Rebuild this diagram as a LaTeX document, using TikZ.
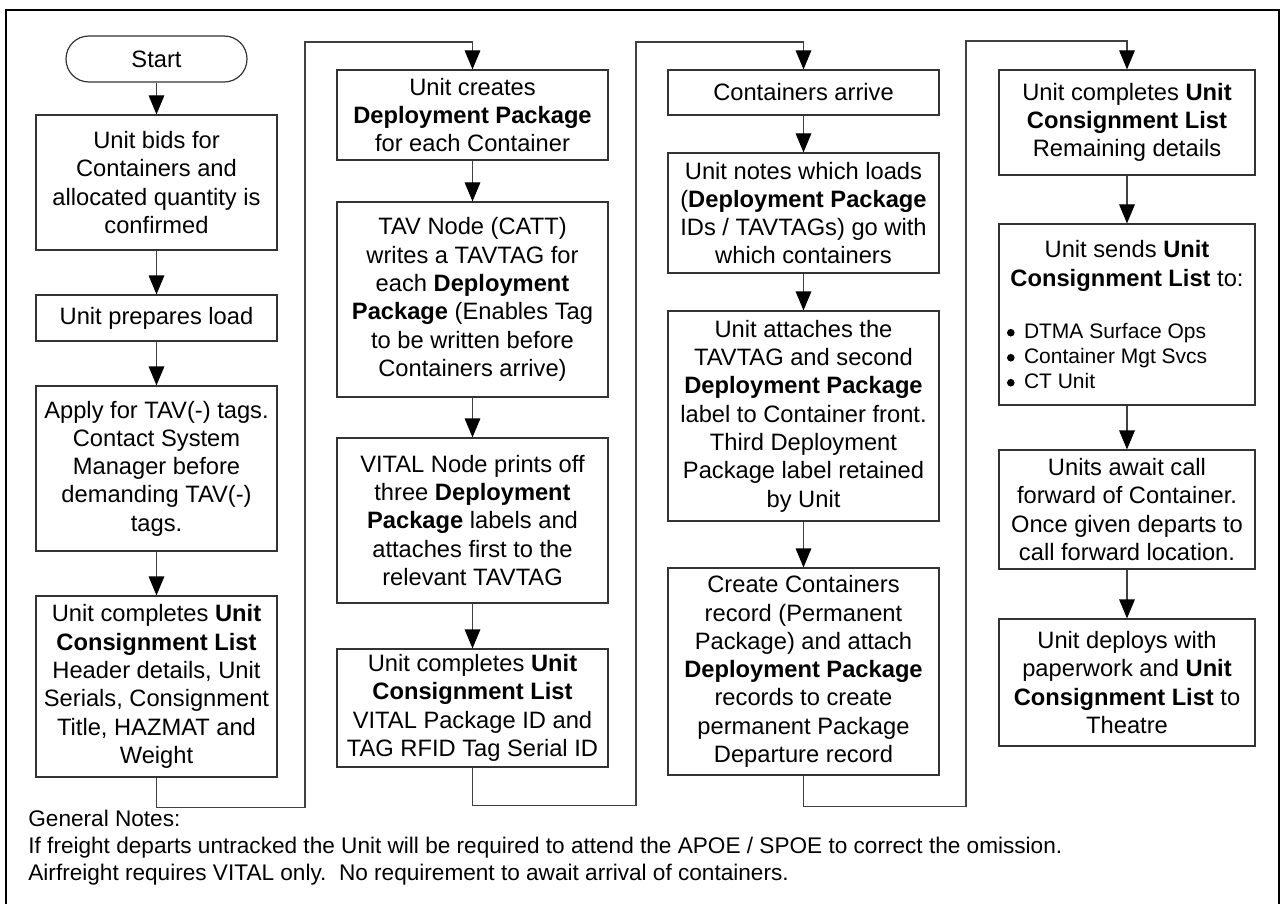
\documentclass[tikz,border=0pt]{standalone}
\usepackage{fontspec}
\setmainfont{Liberation Sans}
\usetikzlibrary{arrows.meta}
\newcommand{\bulletmark}{\makebox[8.5pt][l]{\tikz[baseline=0pt]\fill[black] (1.9pt,2.7pt) circle (1.9pt);}}
\begin{document}
\begin{tikzpicture}[x=0.5pt,y=-0.5pt,
  box/.style={draw=black!80, line width=0.6pt, inner sep=0pt, align=center,
    font=\fontsize{11.85pt}{14.15pt}\selectfont},
  sz/.style 2 args={minimum width=#1*0.5pt, minimum height=#2*0.5pt},
  term/.style={box, rounded corners=11.4pt},
  arr/.style={draw=black!75, line width=0.6pt,
    -{Triangle[length=9.5pt,width=7.8pt,color=black]}},
  note/.style={anchor=base west, inner sep=0pt,
    font=\fontsize{11.3pt}{13.5pt}\selectfont}]
\useasboundingbox (0,0) rectangle (1281,904);
\draw[line width=1pt] (6,10) rectangle (1279,915);

% column 1
\node[term, sz={181}{46}] (start) at (156.5,59) {Start};
\node[box, sz={241}{135}] (b1) at (156.5,182.5) {Unit bids for\\Containers and\\allocated quantity is\\confirmed};
\node[box, sz={241}{46}] (b2) at (156.5,318) {Unit prepares load};
\node[box, sz={241}{165}] (b3) at (156.5,468.5) {Apply for TAV(-) tags.\\Contact System\\Manager before\\demanding TAV(-)\\tags.};
\node[box, sz={241}{181}] (b4) at (156.5,686.5) {Unit completes \textbf{Unit}\\\textbf{Consignment List}\\Header details, Unit\\Serials, Consignment\\Title, HAZMAT and\\Weight};

% column 2
\node[box, sz={271}{90}] (b5) at (472.5,115) {Unit creates\\\textbf{Deployment Package}\\for each Container};
\node[box, sz={271}{195}] (b6) at (472.5,299.5) {TAV Node (CATT)\\writes a TAVTAG for\\each \textbf{Deployment}\\\textbf{Package} (Enables Tag\\to be written before\\Containers arrive)};
\node[box, sz={271}{165}] (b7) at (472.5,520.5) {VITAL Node prints off\\three \textbf{Deployment}\\\textbf{Package} labels and\\attaches first to the\\relevant TAVTAG};
\node[box, sz={271}{118}] (b8) at (472.5,708) {Unit completes \textbf{Unit}\\\textbf{Consignment List}\\VITAL Package ID and\\TAG RFID Tag Serial ID};

% column 3
\node[box, sz={271}{45}] (b9) at (803.5,92.5) {Containers arrive};
\node[box, sz={271}{120}] (b10) at (803.5,213) {Unit notes which loads\\(\textbf{Deployment Package}\\IDs / TAVTAGs) go with\\which containers};
\node[box, sz={271}{210}] (b11) at (803.5,416) {Unit attaches the\\TAVTAG and second\\\textbf{Deployment Package}\\label to Container front.\\Third Deployment\\Package label retained\\by Unit};
\node[box, sz={271}{207}] (b12) at (803.5,671.5) {Create Containers\\record (Permanent\\Package) and attach\\\textbf{Deployment Package}\\records to create\\permanent Package\\Departure record};

% column 4
\node[box, sz={256}{105}] (b13) at (1127,122.5) {Unit completes \textbf{Unit}\\\textbf{Consignment List}\\Remaining details};
\node[box, sz={256}{181}] (b14) at (1127,314.5) {\parbox{120pt}{\centering Unit sends \textbf{Unit}\\\textbf{Consignment List} to:\par
  \vspace{13.5pt}\raggedright\fontsize{10.5pt}{12.5pt}\selectfont
  \bulletmark DTMA Surface Ops\\
  \bulletmark Container Mgt Svcs\\
  \bulletmark CT Unit\par}};
\node[box, sz={256}{119}] (b15) at (1127,509.5) {Units await call\\forward of Container.\\Once given departs to\\call forward location.};
\node[box, sz={256}{127}] (b16) at (1127,682.5) {Unit deploys with\\paperwork and \textbf{Unit}\\\textbf{Consignment List} to\\Theatre};

% route corners
\coordinate (r1) at (305,42);
\coordinate (r2) at (636,42);
\coordinate (r3) at (966,41);

% connectors
\draw[arr] (start) -- (b1);
\draw[arr] (b1) -- (b2);
\draw[arr] (b2) -- (b3);
\draw[arr] (b3) -- (b4);
\draw[arr] (b4.south) -- ++(0,30) -| (r1) -| (b5.north);
\draw[arr] (b5) -- (b6);
\draw[arr] (b6) -- (b7);
\draw[arr] (b7) -- (b8);
\draw[arr] (b8.south) -- ++(0,38) -| (r2) -| (b9.north);
\draw[arr] (b9) -- (b10);
\draw[arr] (b10) -- (b11);
\draw[arr] (b11) -- (b12);
\draw[arr] (b12.south) -- ++(0,31) -| (r3) -| (b13.north);
\draw[arr] (b13) -- (b14);
\draw[arr] (b14) -- (b15);
\draw[arr] (b15) -- (b16);

% notes
\node[note] (n1) at (28,826.5) {General Notes:};
\node[note] (n2) at (28,853.5) {If freight departs untracked the Unit will be required to attend the APOE / SPOE to correct the omission.};
\node[note] (n3) at (28,880.5) {Airfreight requires VITAL only.\ \ No requirement to await arrival of containers.};
\end{tikzpicture}
\end{document}
